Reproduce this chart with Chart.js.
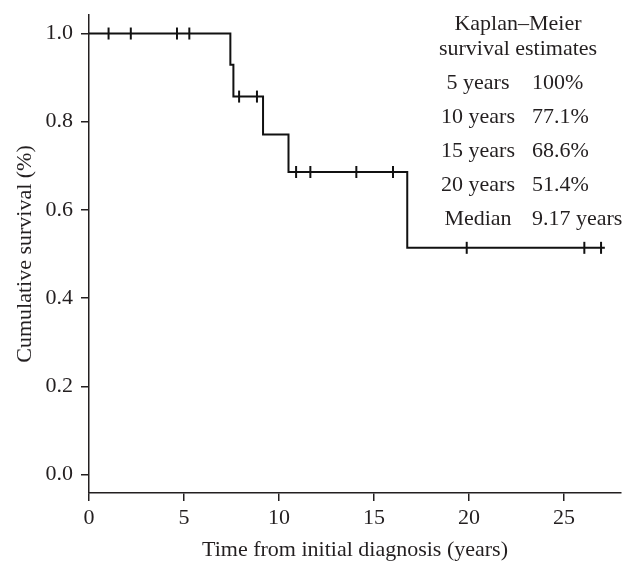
<!DOCTYPE html>
<html>
<head>
    <title>Kaplan-Meier survival</title>
    <script src="https://cdn.jsdelivr.net/npm/chart.js"></script>
    <style>
        body { margin: 0; background: #fff; }
        #wrap { position: relative; width: 636px; height: 575px; }
        .note { position: absolute; font-family: "Liberation Serif", serif; font-size: 22px;
                color: #231f20; line-height: 26px; white-space: nowrap; }
    </style>
</head>
<body>
<div id="wrap">
    <canvas id="kmChart" width="636" height="575"></canvas>
</div>
<script>
// survival curve: value after each event time
var kmTimes    = [0, 7.44, 7.6, 9.16, 10.5, 16.75, 27.15];
var kmSurvival = [1.0, 0.929, 0.857, 0.771, 0.686, 0.514, 0.514];

// censored observations
var censorTimes    = [1.03, 2.2, 4.63, 5.28, 7.9, 8.84, 10.9, 11.65, 14.07, 16.0, 19.88, 26.07, 26.95];
var censorSurvival = [1.0, 1.0, 1.0, 1.0, 0.857, 0.857, 0.686, 0.686, 0.686, 0.686, 0.514, 0.514, 0.514];

var xTicks = [0, 5, 10, 15, 20, 25];
var yTicks = [0.0, 0.2, 0.4, 0.6, 0.8, 1.0];

var noteTitle = ['Kaplan\u2013Meier', 'survival estimates'];
var estimateLabels = ['5 years', '10 years', '15 years', '20 years', 'Median'];
var estimateValues = ['100%', '77.1%', '68.6%', '51.4%', '9.17 years'];

function add_chart() {
    var ink = '#231f20';
    var font = { family: '"Liberation Serif", serif', size: 22 };

    var curve = kmTimes.map(function (t, i) { return { x: t, y: kmSurvival[i] }; });
    var censored = censorTimes.map(function (t, i) { return { x: t, y: censorSurvival[i] }; });

    var ctx = document.getElementById('kmChart').getContext('2d');
    new Chart(ctx, {
        type: 'line',
        data: {
            datasets: [{
                data: curve,
                stepped: true,
                borderColor: '#111',
                borderWidth: 2,
                pointRadius: 0,
                fill: false
            }, {
                type: 'scatter',
                data: censored,
                pointStyle: 'line',
                rotation: 90,
                pointRadius: 6,
                borderColor: '#111',
                borderWidth: 2,
                backgroundColor: '#111'
            }]
        },
        options: {
            responsive: false,
            animation: false,
            layout: { padding: { top: 15, right: 15, left: 0, bottom: 0 } },
            plugins: { legend: { display: false }, tooltip: { enabled: false } },
            scales: {
                x: {
                    type: 'linear',
                    min: 0,
                    max: 28,
                    afterBuildTicks: function (s) { s.ticks = xTicks.map(function (v) { return { value: v }; }); },
                    afterFit: function (s) { s.height = 82; s.paddingLeft = 0; s.paddingRight = 0; },
                    grid: { drawOnChartArea: false, tickLength: 8, color: ink, lineWidth: 1.5 },
                    border: { color: ink, width: 1.5 },
                    ticks: { font: font, color: ink, padding: 4, maxRotation: 0 },
                    title: { display: true, text: 'Time from initial diagnosis (years)', font: font, color: ink,
                             padding: { top: 0, bottom: 12 } }
                },
                y: {
                    min: -0.042,
                    max: 1.042,
                    afterBuildTicks: function (s) { s.ticks = yTicks.map(function (v) { return { value: v }; }); },
                    afterFit: function (s) { s.width = 89; s.paddingTop = 0; s.paddingBottom = 0; },
                    grid: { drawOnChartArea: false, tickLength: 8, color: ink, lineWidth: 1.5 },
                    border: { color: ink, width: 1.5 },
                    ticks: { font: font, color: ink, padding: 8,
                             callback: function (v) { return Number(v).toFixed(1); } },
                    title: { display: true, text: 'Cumulative survival (%)', font: font, color: ink,
                             padding: { top: 12, bottom: 0 } }
                }
            }
        }
    });

    // estimates table in the top right corner
    var wrap = document.getElementById('wrap');
    function note(text, x, y, align) {
        var d = document.createElement('div');
        d.className = 'note';
        d.textContent = text;
        d.style.top = (y - 13) + 'px';
        if (align === 'center') { d.style.left = (x - 150) + 'px'; d.style.width = '300px'; d.style.textAlign = 'center'; }
        else { d.style.left = x + 'px'; }
        wrap.appendChild(d);
    }
    noteTitle.forEach(function (t, i) { note(t, 518, 23 + i * 25, 'center'); });
    estimateLabels.forEach(function (t, i) {
        note(t, 478, 82 + i * 34, 'center');
        note(estimateValues[i], 532, 82 + i * 34, 'left');
    });
}

add_chart();
</script>
</body>
</html>
